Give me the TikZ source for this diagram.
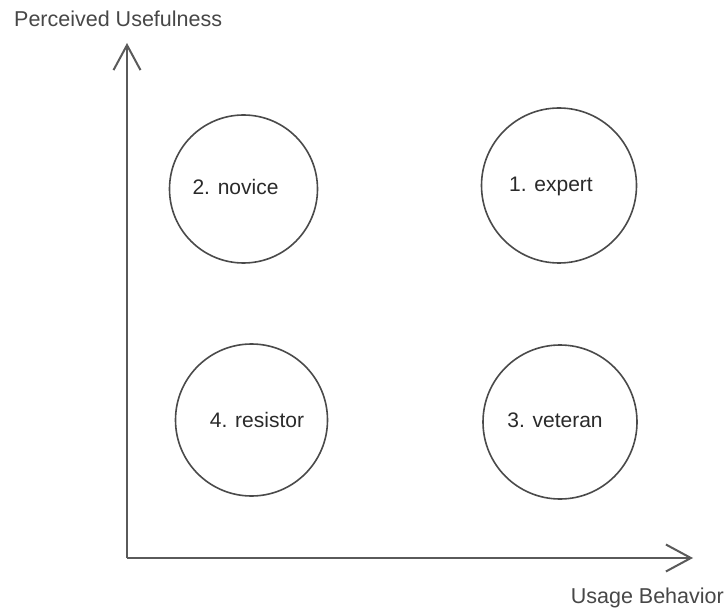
\documentclass[tikz,border=0pt]{standalone}
\usepackage{fontspec}
\setmainfont{Liberation Sans}
\usetikzlibrary{arrows.meta}
\definecolor{axisgray}{HTML}{5A5A5A}
\definecolor{circgray}{HTML}{4A4A4A}
\definecolor{txtgray}{HTML}{2A2A2A}
\definecolor{labgray}{HTML}{474747}
\tikzset{
  axis/.style={draw=axisgray, line width=2.2pt, -{Straight Barb[length=25pt,width=27pt,line width=2pt]}},
  bubble/.style={circle, draw=circgray, line width=1.6pt, inner sep=0pt},
  bubtext/.style={text=txtgray, font=\fontsize{21}{25}\selectfont, inner sep=0pt},
  axlabel/.style={text=labgray, font=\fontsize{21.5}{26}\selectfont, inner sep=0pt}
}
\begin{document}
\begin{tikzpicture}[x=1pt,y=-1pt]
\useasboundingbox[fill=white] (0,0) rectangle (727,609);
\coordinate (origin) at (127,558);
\coordinate (ytip) at (127,43);
\coordinate (xtip) at (693,558);
\draw[axis] (origin) -- (ytip);
\draw[axis] (origin) -- (xtip);
\node[axlabel, anchor=base west] (ylab) at (14,27) {Perceived Usefulness};
\node[axlabel, anchor=base east] (xlab) at (724,603) {Usage Behavior};

\node[bubble, minimum size=148pt] (c2) at (243.5,189) {};
\node[bubble, minimum size=155pt] (c1) at (559,185.5) {};
\node[bubble, minimum size=152pt] (c4) at (251.5,420) {};
\node[bubble, minimum size=154pt] (c3) at (560,422) {};

\node[bubtext] (t2) at (235.5,187) {2. novice};
\node[bubtext] (t1) at (551,186) {1. expert};
\node[bubtext] (t4) at (257,420) {4. resistor};
\node[bubtext] (t3) at (555,420) {3. veteran};
\end{tikzpicture}
\end{document}
